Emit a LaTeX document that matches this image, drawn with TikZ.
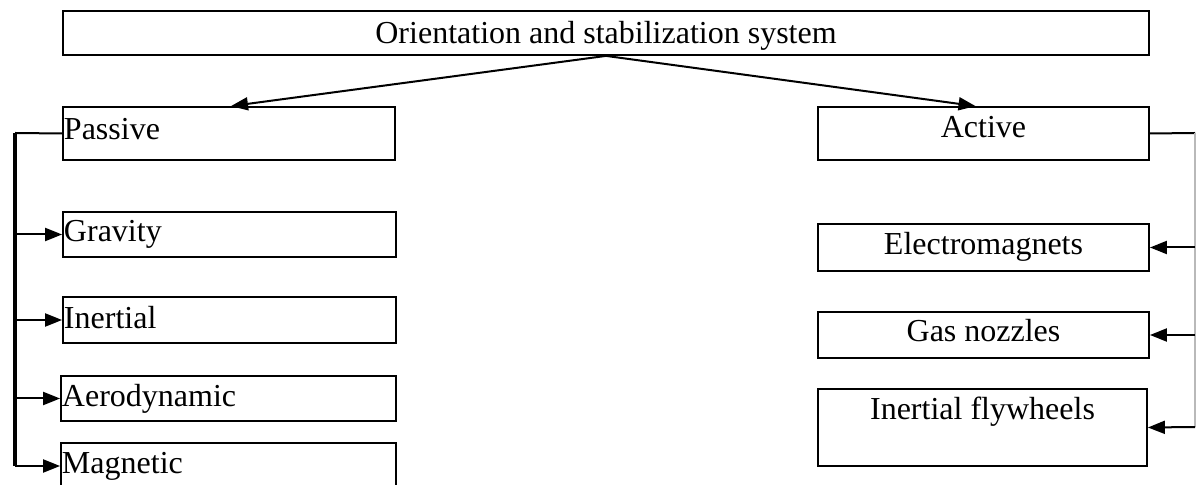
\documentclass[tikz,border=0pt]{standalone}
\usepackage{fontspec}
\setmainfont{Liberation Serif}
\usetikzlibrary{arrows.meta,calc}
\begin{document}
\begin{tikzpicture}[x=0.5bp,y=-0.5bp,
  box/.style={draw, line width=0.9bp, rectangle, inner xsep=0.5bp, inner ysep=0pt,
    text height=11.3bp, font=\fontsize{16bp}{19bp}\selectfont},
  lbox/.style={box, align=left},
  dp/.style={text depth=#1},
  arr/.style={line width=1bp, -{Triangle[length=8.5bp,width=6.5bp]}},
]
\useasboundingbox (0,0) rectangle (1196,485);

% top level
\node[box, dp=0.8bp, minimum width=543bp, minimum height=22bp] (top) at (606,33)
  {Orientation and stabilization system};

% passive branch
\node[lbox, dp=5.3bp, text width=165bp, minimum height=26.5bp] (passive) at (229,133.5) {Passive};
\node[lbox, dp=3.8bp, text width=165.5bp, minimum height=22.5bp] (gravity) at (229.5,234.5) {Gravity};
\node[lbox, dp=2.8bp, text width=165.5bp, minimum height=23bp] (inertial) at (229.5,320) {Inertial};
\node[lbox, dp=2.8bp, text width=166.5bp, minimum height=22.5bp] (aero) at (228.5,398.5) {Aerodynamic};
\node[lbox, dp=4.3bp, text width=166.5bp, minimum height=23bp] (magnetic) at (228.5,466) {Magnetic};

% active branch
\node[box, dp=7.3bp, minimum width=165.5bp, minimum height=26.5bp] (active) at (983.5,133.5) {Active};
\node[box, dp=4.3bp, minimum width=165.5bp, minimum height=23.5bp] (electro) at (983.5,247.5) {Electromagnets};
\node[box, dp=4.8bp, minimum width=165.5bp, minimum height=23bp] (gas) at (983.5,335) {Gas nozzles};
\node[box, dp=19.3bp, minimum width=164.5bp, minimum height=38.5bp] (flywheels) at (982.5,427.5) {Inertial flywheels};

% split from the top box
\draw[arr] (top.south) -- ([xshift=1bp]passive.north);
\draw[arr] (top.south) -- ([xshift=-4bp]active.north);

% left bus
\coordinate (lt) at (15,133);
\coordinate (lb) at (15,466);
\draw[line width=1bp] (passive.west) -- (lt);
\draw[line width=2bp] (lt) -- (lb);
\draw[arr] (gravity.west -| lt) -- (gravity.west);
\draw[arr] (inertial.west -| lt) -- (inertial.west);
\draw[arr] (aero.west -| lt) -- (aero.west);
\draw[arr] (lb) -- (magnetic.west);

% right bus
\coordinate (rt) at (1195,133);
\coordinate (rb) at (1195,427);
\draw[line width=1bp] (active.east) -- (rt);
\draw[gray!55, line width=0.6bp] (rt) -- (rb);
\draw[arr] (electro.east -| rt) -- (electro.east);
\draw[arr] (gas.east -| rt) -- (gas.east);
\draw[arr] (rb) -- (flywheels.east);
\end{tikzpicture}
\end{document}
